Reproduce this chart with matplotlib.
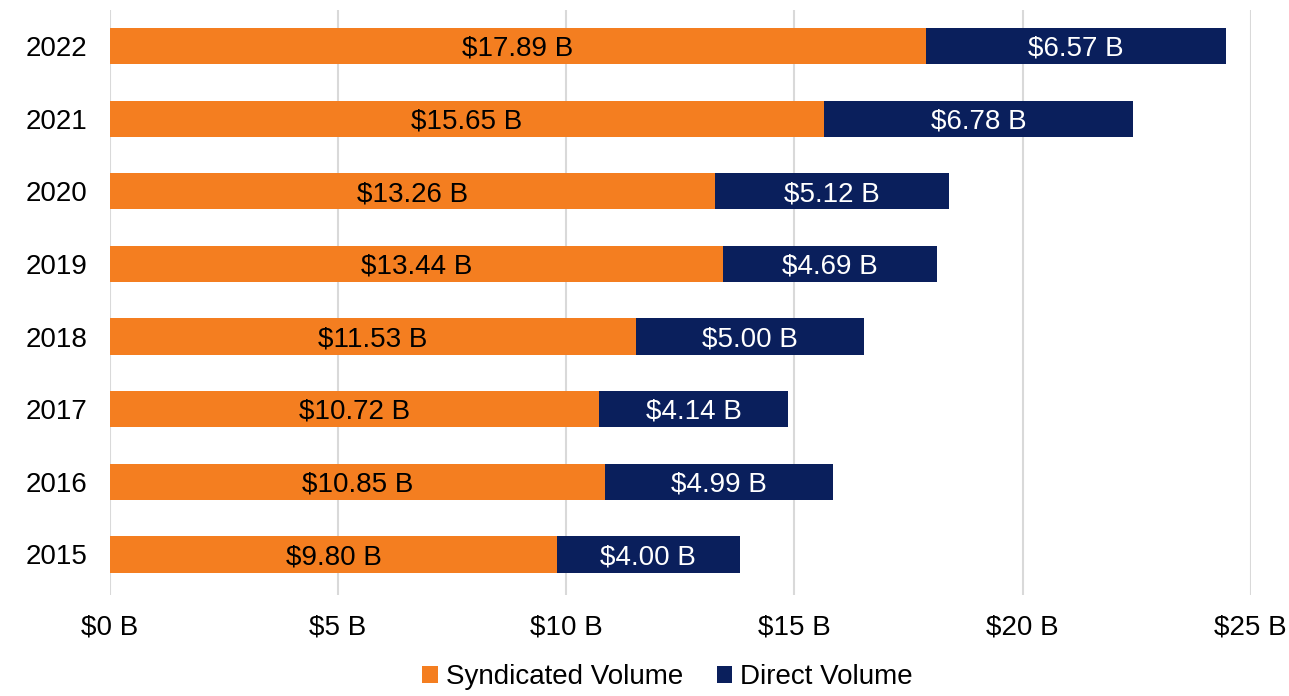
import numpy as np
import matplotlib.pyplot as plt

plt.rcParams['font.family'] = ['Liberation Sans', 'DejaVu Sans']

years = ['2015', '2016', '2017', '2018', '2019', '2020', '2021', '2022']
syndicated = [9.80, 10.85, 10.72, 11.53, 13.44, 13.26, 15.65, 17.89]
direct = [4.00, 4.99, 4.14, 5.00, 4.69, 5.12, 6.78, 6.57]
xticks = [0, 5, 10, 15, 20, 25]

orange = '#F47E20'
navy = '#0A1F5C'

fig = plt.figure(figsize=(12.89, 6.96), dpi=100)
ax = fig.add_axes([0.0853, 0.145, 0.885, 0.841])

y = np.arange(len(years))
b1 = ax.barh(y, syndicated, height=0.5, color=orange, label='Syndicated Volume', zorder=3)
b2 = ax.barh(y, direct, left=syndicated, height=0.5, color=navy, label='Direct Volume', zorder=3)

# segment labels, nudged a little down like the original
for bars, vals, col in [(b1, syndicated, 'black'), (b2, direct, 'white')]:
    for r, v in zip(bars, vals):
        ax.annotate('$%.2f B' % v, (r.get_x() + r.get_width() / 2, r.get_y() + r.get_height() / 2),
                    xytext=(0, -2), textcoords='offset points', ha='center', va='center',
                    fontsize=20, color=col, zorder=4)

ax.set_xlim(0, 25)
ax.set_ylim(-0.56, 7.5)
ax.set_yticks(y)
ax.set_yticklabels(years, fontsize=20)
ax.set_xticks(xticks)
ax.set_xticklabels(['$%d B' % t for t in xticks], fontsize=20)
ax.tick_params(length=0, pad=16)
ax.tick_params(axis='x', pad=14)

ax.grid(axis='x', color='#D9D9D9', linewidth=1.5, zorder=0)
for s in ax.spines.values():
    s.set_visible(False)

fig.legend(loc='lower center', bbox_to_anchor=(0.518, -0.028), ncol=2, frameon=False,
           fontsize=20, handlelength=0.55, handleheight=0.55, handletextpad=0.3,
           columnspacing=1.2)

fig.savefig('out.png', dpi=100)
